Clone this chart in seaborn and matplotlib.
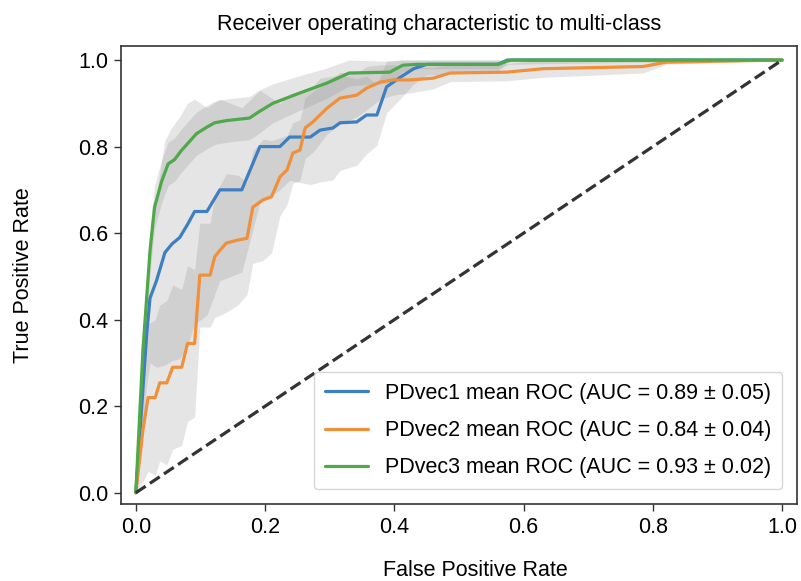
import numpy as np
import pandas as pd
import matplotlib
matplotlib.use("Agg")
import matplotlib.pyplot as plt
import seaborn as sns

# ---------------- data ----------------
series_names = ["PDvec1", "PDvec2", "PDvec3"]
auc_means = [0.89, 0.84, 0.93]
auc_stds = [0.05, 0.04, 0.02]

fpr1 = [0, 0.017, 0.022, 0.032, 0.045, 0.056, 0.068, 0.08, 0.091, 0.11, 0.13, 0.164, 0.192, 0.223,
        0.238, 0.27, 0.285, 0.305, 0.316, 0.342, 0.357, 0.373, 0.388, 0.409, 0.43, 0.45, 0.56, 0.575, 1.0]
tpr1 = [0, 0.37, 0.45, 0.49, 0.555, 0.575, 0.59, 0.62, 0.65, 0.65, 0.70, 0.70, 0.80, 0.80,
        0.822, 0.822, 0.838, 0.843, 0.855, 0.857, 0.873, 0.873, 0.938, 0.96, 0.98, 0.99, 0.99, 1.0, 1.0]
std1 = [0, 0.12, 0.15, 0.2, 0.26, 0.27, 0.28, 0.28, 0.26, 0.24, 0.21, 0.19, 0.13, 0.1,
        0.1, 0.11, 0.12, 0.12, 0.11, 0.1, 0.09, 0.07, 0.06, 0.05, 0.035, 0.025, 0.015, 0.01, 0.0]

fpr2 = [0, 0.011, 0.019, 0.03, 0.037, 0.048, 0.057, 0.071, 0.08, 0.091, 0.099, 0.115, 0.122, 0.13,
        0.14, 0.158, 0.172, 0.181, 0.197, 0.21, 0.223, 0.234, 0.243, 0.254, 0.262, 0.274, 0.296,
        0.316, 0.342, 0.357, 0.378, 0.398, 0.424, 0.46, 0.486, 0.574, 0.63, 0.785, 0.82, 1.0]
tpr2 = [0, 0.145, 0.22, 0.22, 0.254, 0.254, 0.29, 0.29, 0.345, 0.345, 0.503, 0.503, 0.545, 0.56,
        0.577, 0.584, 0.588, 0.66, 0.677, 0.684, 0.73, 0.746, 0.785, 0.792, 0.843, 0.857, 0.889,
        0.912, 0.919, 0.935, 0.949, 0.954, 0.954, 0.958, 0.97, 0.972, 0.98, 0.985, 0.995, 1.0]
std2 = [0, 0.12, 0.17, 0.18, 0.18, 0.19, 0.19, 0.18, 0.18, 0.17, 0.12, 0.12, 0.14, 0.15,
        0.16, 0.15, 0.13, 0.13, 0.14, 0.13, 0.09, 0.08, 0.07, 0.07, 0.07, 0.07, 0.06,
        0.06, 0.05, 0.05, 0.04, 0.035, 0.03, 0.025, 0.02, 0.02, 0.02, 0.015, 0.005, 0.0]

fpr3 = [0, 0.011, 0.022, 0.029, 0.04, 0.05, 0.06, 0.07, 0.094, 0.11, 0.122, 0.14, 0.176, 0.19,
        0.212, 0.254, 0.296, 0.33, 0.393, 0.413, 0.435, 0.56, 0.58, 1.0]
tpr3 = [0, 0.33, 0.56, 0.66, 0.72, 0.76, 0.77, 0.79, 0.83, 0.845, 0.855, 0.86, 0.866, 0.88,
        0.90, 0.924, 0.947, 0.97, 0.972, 0.988, 0.99, 0.99, 1.0, 1.0]
std3 = [0, 0.04, 0.05, 0.05, 0.05, 0.05, 0.05, 0.05, 0.05, 0.05, 0.05, 0.05, 0.05, 0.05,
        0.045, 0.04, 0.035, 0.03, 0.025, 0.015, 0.01, 0.01, 0.0, 0.0]

chance = [0, 1]

x_ticks = [0.0, 0.2, 0.4, 0.6, 0.8, 1.0]
y_ticks = [0.0, 0.2, 0.4, 0.6, 0.8, 1.0]

colors = ["#3d7fc1", "#f0903a", "#4fa84a"]

# ---------------- plot ----------------
sns.set_style("white")
plt.rcParams["font.family"] = ["Liberation Sans", "DejaVu Sans"]
plt.rcParams["text.color"] = "black"
plt.rcParams["axes.labelcolor"] = "black"
plt.rcParams["xtick.color"] = "black"
plt.rcParams["ytick.color"] = "black"

fig = plt.figure(figsize=(8.01, 5.81), dpi=100)
ax = fig.add_axes([0.151, 0.1325, 0.844, 0.788])

all_fpr = [fpr1, fpr2, fpr3]
all_tpr = [tpr1, tpr2, tpr3]
all_std = [std1, std2, std3]

for name, f, t, s, c, am, asd in zip(series_names, all_fpr, all_tpr, all_std, colors, auc_means, auc_stds):
    f = np.array(f); t = np.array(t); s = np.array(s)
    upper = np.minimum(t + s, 1)
    lower = np.maximum(t - s, 0)
    ax.fill_between(f, lower, upper, color="grey", alpha=0.2, linewidth=0)
    df = pd.DataFrame({"fpr": f, "tpr": t})
    sns.lineplot(data=df, x="fpr", y="tpr", ax=ax, color=c, lw=2.3, estimator=None, sort=False,
                 label=f"{name} mean ROC (AUC = {am:.2f} \u00b1 {asd:.2f})")

sns.lineplot(x=chance, y=chance, ax=ax, color="#333333", lw=2.3, linestyle="--", estimator=None)

ax.set_xlim(-0.023, 1.023)
ax.set_ylim(-0.026, 1.032)
ax.set_xticks(x_ticks)
ax.set_yticks(y_ticks)
ax.set_xticklabels([f"{v:.1f}" for v in x_ticks])
ax.set_yticklabels([f"{v:.1f}" for v in y_ticks])
ax.tick_params(axis="both", which="both", length=5, width=1, direction="out",
               labelsize=15.5, bottom=True, left=True, color="#333333", pad=4)
for sp in ax.spines.values():
    sp.set_color("#333333")
    sp.set_linewidth(1.2)

ax.set_xlabel("False Positive Rate", fontsize=15.5)
ax.set_ylabel("True Positive Rate", fontsize=15.5)
ax.xaxis.set_label_coords(0.525, -0.122)
ax.yaxis.set_label_coords(-0.128, 0.5)
ax.set_title("Receiver operating characteristic to multi-class", fontsize=15.5, pad=12, x=0.47)

leg = ax.legend(loc="lower right", fontsize=15.5, frameon=True, fancybox=True,
                handlelength=2.0, borderpad=0.5, labelspacing=0.75, borderaxespad=0.7)
leg.get_frame().set_edgecolor("#cccccc")

fig.savefig("out.png", dpi=100)
